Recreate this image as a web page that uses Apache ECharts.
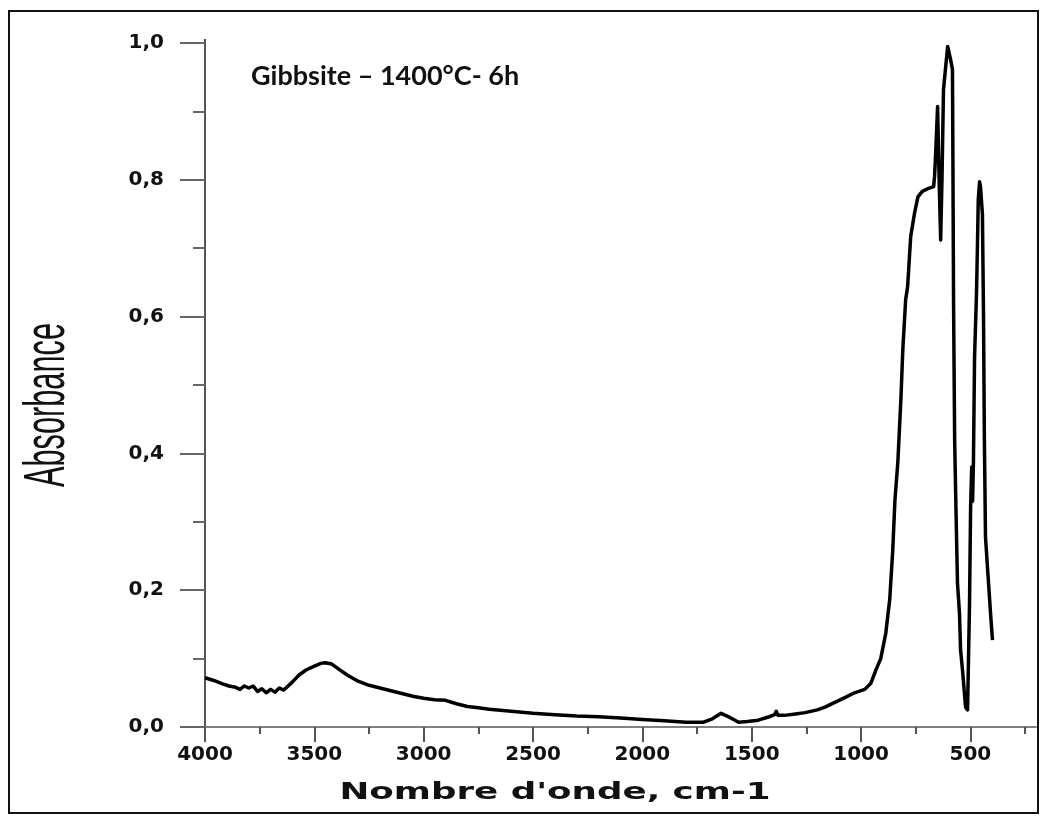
<!DOCTYPE html>
<html>
<head>
<meta charset="utf-8">
<title>Gibbsite – 1400°C- 6h</title>
<script src="https://cdn.jsdelivr.net/npm/echarts@6/dist/echarts.min.js"></script>
<style>
  html, body { margin: 0; padding: 0; background: #fff; }
  #chart { width: 1043px; height: 816px; }
</style>
</head>
<body>
<div id="chart"></div>
<script>
// IR spectrum: wavenumber (cm-1) and absorbance
const wavenumber = [
  4000, 3960, 3920, 3890, 3860, 3840, 3820, 3800, 3780, 3760, 3740, 3720, 3700, 3680, 3660, 3640, 3620, 3600,
  3570, 3540, 3500, 3470, 3450, 3420, 3390, 3350, 3300, 3250, 3200, 3150, 3100, 3050, 3000, 2950, 2900, 2850,
  2800, 2750, 2700, 2600, 2500, 2400, 2300, 2200, 2100, 2000, 1900, 1800, 1720, 1680, 1640, 1600, 1560, 1520,
  1470, 1420, 1395, 1388, 1380, 1350, 1300, 1256, 1200, 1165, 1120, 1074, 1030, 983, 955, 930, 910, 887,
  869, 855, 845, 832, 818, 809, 796, 787, 773, 755, 740, 720, 695, 668, 664, 660, 650, 643, 636, 630,
  623, 604, 590, 582, 580, 577, 572, 568, 559, 550, 545, 536, 522, 513, 504, 499, 494, 490, 486, 481,
  472, 468, 464, 458, 454, 445, 440, 436, 431, 422, 408, 399
];
const absorbance = [
  0.072, 0.068, 0.063, 0.060, 0.058, 0.055, 0.060, 0.057, 0.060, 0.052, 0.056, 0.050, 0.055, 0.051, 0.057, 0.054, 0.060, 0.066,
  0.076, 0.083, 0.089, 0.093, 0.094, 0.092, 0.085, 0.076, 0.067, 0.061, 0.057, 0.053, 0.049, 0.045, 0.042, 0.040, 0.039, 0.034,
  0.030, 0.028, 0.026, 0.023, 0.020, 0.018, 0.016, 0.015, 0.013, 0.011, 0.009, 0.007, 0.007, 0.012, 0.020, 0.014, 0.007, 0.008,
  0.010, 0.015, 0.018, 0.023, 0.017, 0.017, 0.019, 0.021, 0.025, 0.029, 0.036, 0.043, 0.050, 0.055, 0.064, 0.085, 0.100, 0.137,
  0.186, 0.259, 0.332, 0.386, 0.478, 0.552, 0.625, 0.644, 0.717, 0.752, 0.775, 0.783, 0.787, 0.790, 0.805, 0.830, 0.907, 0.800, 0.712, 0.800,
  0.932, 0.995, 0.975, 0.961, 0.834, 0.620, 0.420, 0.351, 0.210, 0.167, 0.113, 0.083, 0.029, 0.025, 0.181, 0.322, 0.380, 0.330, 0.390, 0.540,
  0.635, 0.700, 0.771, 0.797, 0.790, 0.750, 0.600, 0.420, 0.278, 0.234, 0.167, 0.127
];

const xMajorTicks = [4000, 3500, 3000, 2500, 2000, 1500, 1000, 500];
const xMinorTicks = [3750, 3250, 2750, 2250, 1750, 1250, 750, 250];

const titleText = 'Gibbsite – 1400°C- 6h';
const xTitle = "Nombre d'onde, cm-1";
const yTitle = 'Absorbance';

const points = wavenumber.map((w, i) => [w, absorbance[i]]);

const chart = echarts.init(document.getElementById('chart'), null, { renderer: 'canvas' });

const tickFont = {
  fontFamily: 'DejaVu Sans',
  fontWeight: 'bold',
  fontSize: 20,
  color: '#111'
};

chart.setOption({
  backgroundColor: '#fff',
  animation: false,
  grid: { left: 205, right: 7, top: 43, bottom: 89 },
  xAxis: [
    {
      type: 'value',
      inverse: true,
      min: 200,
      max: 4000,
      axisLine: { show: true, lineStyle: { color: '#808080', width: 2 } },
      axisTick: { show: true, length: 15, customValues: xMajorTicks, lineStyle: { color: '#555', width: 2 } },
      axisLabel: {
        customValues: xMajorTicks,
        margin: 18,
        formatter: v => String(v),
        ...tickFont
      },
      splitLine: { show: false }
    },
    {
      type: 'value',
      inverse: true,
      min: 200,
      max: 4000,
      position: 'bottom',
      axisLine: { show: false },
      axisTick: { show: true, length: 7, customValues: xMinorTicks, lineStyle: { color: '#555', width: 2 } },
      axisLabel: { show: false },
      splitLine: { show: false }
    }
  ],
  yAxis: {
    type: 'value',
    min: 0,
    max: 1.0,
    interval: 0.2,
    axisLine: { show: true, lineStyle: { color: '#555', width: 2 } },
    axisTick: { show: true, length: 25, lineStyle: { color: '#666', width: 2 } },
    minorTick: { show: true, splitNumber: 2, length: 12, lineStyle: { color: '#666', width: 2 } },
    minorSplitLine: { show: false },
    axisLabel: {
      margin: 41,
      formatter: v => v.toFixed(1).replace('.', ','),
      ...tickFont
    },
    splitLine: { show: false }
  },
  series: [{
    type: 'line',
    data: points,
    showSymbol: false,
    symbol: 'none',
    smooth: false,
    lineStyle: { color: '#000', width: 3.5, join: 'round' }
  }],
  graphic: [
    {
      type: 'rect',
      shape: { x: 9, y: 11, width: 1029, height: 802 },
      style: { fill: 'none', stroke: '#111', lineWidth: 2 },
      silent: true
    },
    {
      type: 'line',
      shape: { x1: 180, y1: 727, x2: 205, y2: 727 },
      style: { stroke: '#808080', lineWidth: 2 },
      silent: true
    },
    {
      type: 'line',
      shape: { x1: 205, y1: 39, x2: 205, y2: 44 },
      style: { stroke: '#555', lineWidth: 2 },
      silent: true
    },
    {
      type: 'text',
      x: 251,
      y: 76,
      style: {
        text: titleText,
        fontFamily: 'Lato',
        fontWeight: 'bold',
        fontSize: 27,
        fill: '#111',
        textAlign: 'left',
        textVerticalAlign: 'middle'
      }
    },
    {
      type: 'text',
      x: 555,
      y: 793,
      scaleX: 1.55,
      style: {
        text: xTitle,
        fontFamily: 'DejaVu Sans',
        fontWeight: 'bold',
        fontSize: 23,
        fill: '#111',
        textAlign: 'center',
        textVerticalAlign: 'middle'
      }
    },
    {
      type: 'text',
      x: 48,
      y: 405,
      rotation: Math.PI / 2,
      scaleX: 0.53,
      style: {
        text: yTitle,
        fontFamily: 'Liberation Sans',
        fontSize: 58,
        fill: '#111',
        textAlign: 'center',
        textVerticalAlign: 'middle'
      }
    }
  ]
});
</script>
</body>
</html>
